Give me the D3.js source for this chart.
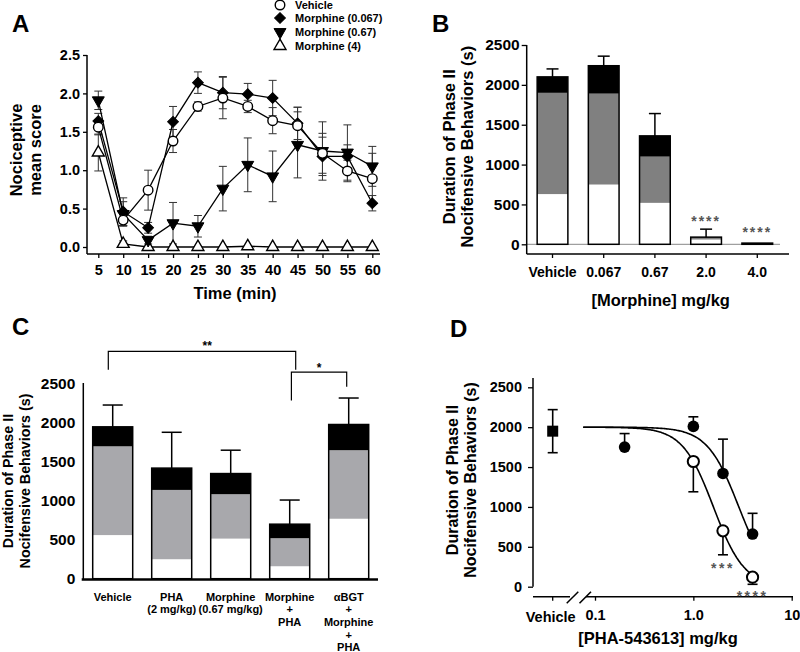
<!DOCTYPE html>
<html><head><meta charset="utf-8">
<script src="https://cdn.jsdelivr.net/npm/d3@7"></script>
<style>
body{margin:0;background:#fff}
svg{display:block}
text{font-family:"Liberation Sans",Arial,sans-serif;font-weight:bold;fill:#000}
</style>
</head><body>
<svg id="c" width="800" height="652"></svg>
<script>
// ---------- Panel A data ----------
const timesA = [5,10,15,20,25,30,35,40,45,50,55,60];
const vehicleA = [1.56,0.35,0.74,1.38,1.83,1.94,1.83,1.645,1.58,1.22,0.99,0.89];
const vehicleErrA = [0.1,0.07,0.26,0.15,0.06,0.27,0.08,0.17,0.24,0.26,0.14,0.33];
const morph067A = [1.64,0.46,0.25,1.63,2.14,2.01,1.99,1.94,1.61,1.18,1.18,0.57];
const morph067ErrA = [0.1,0.18,0.07,0.2,0.14,0.21,0.14,0.23,0.21,0.25,0.15,0.1];
const morph067_A = [1.91,0.43,0.09,0.31,0.27,0.76,1.07,0.92,1.33,1.25,1.23,1.05];
const morph067_ErrA = [0.12,0.16,0.05,0.27,0.14,0.29,0.35,0.33,0.43,0.38,0.36,0.26];
const morph4A = [1.23,0.04,0,0,0,0,0.01,0,0,0,0,0];
const morph4ErrA = [0.24,0.04,0,0,0,0,0,0,0,0,0,0];
const ticksA = [0,0.5,1.0,1.5,2.0,2.5];
const legendA = ["Vehicle","Morphine (0.067)","Morphine (0.67)","Morphine (4)"];

// ---------- Panel B data ----------
const catsB = ["Vehicle","0.067","0.67","2.0","4.0"];
const whiteB = [630,750,520,60,0];
const grayB = [1270,1140,580,25,0];
const blackB = [200,350,260,5,15];
const errB = [100,120,280,100,0];
const starsB = ["","","","****","****"];
const ticksB = [0,500,1000,1500,2000,2500];

// ---------- Panel C data ----------
const catsC = ["Vehicle","PHA","Morphine","Morphine+PHA","aBGT+Morphine+PHA"];
const labelsC = [["Vehicle"],["PHA","(2 mg/kg)"],["Morphine","(0.67 mg/kg)"],["Morphine","+","PHA"],["\u03B1BGT","+","Morphine","+","PHA"]];
const whiteC = [560,250,515,160,770];
const grayC = [1140,890,570,360,880];
const blackC = [250,280,265,180,330];
const errC = [280,460,300,310,340];
const ticksC = [0,500,1000,1500,2000,2500];

// ---------- Panel D data ----------
const vehicleD = 1950, vehicleErrD = 270;
const dosesFilledD = [0.2,1.0,2.0,4.0];
const filledD = [1750,2010,1420,660];
const filledErrD = [170,120,430,260];
const dosesOpenD = [1.0,2.0,4.0];
const openD = [1570,700,120];
const openErrD = [380,300,90];
const fitFilledD = {top:2000, ec50:2.9, hill:2.7};
const fitOpenD = {top:2000, ec50:1.6, hill:2.76};
const ticksD = [0,500,1000,1500,2000,2500];
const xTicksD = [0.1,1,10];
const xTickLabelsD = ["0.1","1.0","10"];

const svg = d3.select("#c");
const fmtInt = d3.format("d");

function rotTitle(g, lines, cx, cy, size){
  lines.forEach((t,i)=>{
    g.append("text").attr("transform",`translate(${cx[i]},${cy}) rotate(-90)`)
      .attr("text-anchor","middle").attr("dy","0.35em").attr("font-size",size).text(t);
  });
}
function letter(x,y,t){ svg.append("text").attr("x",x).attr("y",y).attr("font-size",24).text(t); }

// =================== PANEL A ===================
{
  const g = svg.append("g");
  const x = d3.scaleLinear().domain([5,60]).range([98.3,372.3]);
  const y = d3.scaleLinear().domain([0,2.5]).range([247,55]);
  g.append("line").attr("x1",87).attr("x2",87).attr("y1",55).attr("y2",254).attr("stroke","#000").attr("stroke-width",1.5);
  g.append("line").attr("x1",87).attr("x2",380).attr("y1",254).attr("y2",254).attr("stroke","#000").attr("stroke-width",1.5);
  const ya = g.append("g").attr("transform","translate(87,0)")
    .call(d3.axisLeft(y).tickValues(ticksA).tickFormat(d3.format(".1f")).tickSize(4).tickSizeOuter(0));
  ya.select(".domain").remove();
  ya.selectAll("text").attr("font-size",14.5).attr("font-family",null).attr("x",-7);
  ya.selectAll("line").attr("stroke-width",1.3);
  const xa = g.append("g").attr("transform","translate(0,254)")
    .call(d3.axisBottom(x).tickValues(timesA).tickSize(4).tickSizeOuter(0));
  xa.select(".domain").remove();
  xa.selectAll("text").attr("font-size",14.5).attr("font-family",null).attr("y",11);
  xa.selectAll("line").attr("stroke-width",1.3);
  g.append("text").attr("x",235).attr("y",293).attr("dy","0.35em").attr("text-anchor","middle").attr("font-size",16.5).text("Time (min)");
  rotTitle(g,["Nociceptive","mean score"],[16,35],150,16.5);

  const series = [
    {v:vehicleA,e:vehicleErrA,sym:"circle",fill:"#fff"},
    {v:morph067A,e:morph067ErrA,sym:"diamond",fill:"#000"},
    {v:morph067_A,e:morph067_ErrA,sym:"down",fill:"#000"},
    {v:morph4A,e:morph4ErrA,sym:"up",fill:"#fff"}
  ];
  function marker(sel, sym, fill){
    let p;
    if(sym==="circle") p = d3.symbol(d3.symbolCircle, 72)();
    else if(sym==="diamond") p = d3.symbol(d3.symbolSquare, 58)();
    else p = d3.symbol(d3.symbolTriangle, 62)();
    sel.append("path").attr("d",p)
      .attr("transform", sym==="diamond" ? "rotate(45)" : sym==="down" ? "rotate(180)" : null)
      .attr("fill",fill).attr("stroke","#000").attr("stroke-width",sym==="circle"||sym==="up"?1.4:1);
  }
  series.forEach(s=>{
    const eg = g.append("g").attr("stroke","#333").attr("stroke-width",1);
    timesA.forEach((t,i)=>{
      if(s.e[i]<=0) return;
      const cx = x(t), y1 = y(s.v[i]+s.e[i]), y0 = y(Math.max(0,s.v[i]-s.e[i]));
      eg.append("line").attr("x1",cx).attr("x2",cx).attr("y1",y1).attr("y2",y0);
      eg.append("line").attr("x1",cx-4).attr("x2",cx+4).attr("y1",y1).attr("y2",y1);
      eg.append("line").attr("x1",cx-4).attr("x2",cx+4).attr("y1",y0).attr("y2",y0);
    });
  });
  const line = d3.line().x((d,i)=>x(timesA[i])).y(d=>y(d));
  series.forEach(s=>{
    g.append("path").attr("d",line(s.v)).attr("fill","none").attr("stroke","#000").attr("stroke-width",1.3);
  });
  series.slice().reverse().forEach(s=>{
    timesA.forEach((t,i)=>{
      const m = g.append("g").attr("transform",`translate(${x(t)},${y(s.v[i])})`);
      marker(m,s.sym,s.fill);
    });
  });
  const ly = [5,18,32,46];
  series.forEach((s,i)=>{
    const m = g.append("g").attr("transform",`translate(280,${ly[i]})`);
    marker(m,s.sym,s.fill);
    g.append("text").attr("x",295).attr("y",ly[i]).attr("dy","0.36em").attr("font-size",11).text(legendA[i]);
  });
  letter(12,32,"A");
}

// =================== PANEL B ===================
{
  const g = svg.append("g");
  const x = d3.scaleBand().domain(catsB).range([521.8,788]).paddingInner(0.4).paddingOuter(0.3);
  const y = d3.scaleLinear().domain([0,2500]).range([244.3,45]);
  g.append("line").attr("x1",527).attr("x2",780).attr("y1",y(0)).attr("y2",y(0)).attr("stroke","#888").attr("stroke-width",1);
  const data = catsB.map((c,i)=>({c, white:whiteB[i], gray:grayB[i], black:blackB[i]}));
  const stack = d3.stack().keys(["white","gray","black"])(data);
  const colors = {white:"#fff",gray:"#808080",black:"#000"};
  stack.forEach(layer=>{
    g.append("g").selectAll("rect").data(layer).join("rect")
      .attr("x",d=>x(d.data.c)).attr("width",x.bandwidth())
      .attr("y",d=>y(d[1])).attr("height",d=>Math.max(0,y(d[0])-y(d[1])))
      .attr("fill",colors[layer.key]);
  });
  data.forEach((d,i)=>{
    const tot = d.white+d.gray+d.black;
    g.append("rect").attr("x",x(d.c)).attr("width",x.bandwidth()).attr("y",y(tot)).attr("height",y(0)-y(tot))
      .attr("fill","none").attr("stroke","#000").attr("stroke-width",1.5);
    if(errB[i]>0){
      const cx = x(d.c)+x.bandwidth()/2;
      g.append("line").attr("x1",cx).attr("x2",cx).attr("y1",y(tot)).attr("y2",y(tot+errB[i])).attr("stroke","#000").attr("stroke-width",1.5);
      g.append("line").attr("x1",cx-6).attr("x2",cx+6).attr("y1",y(tot+errB[i])).attr("y2",y(tot+errB[i])).attr("stroke","#000").attr("stroke-width",1.5);
    }
    if(starsB[i]){
      g.append("text").attr("x",x(d.c)+x.bandwidth()/2).attr("y",i===3?226:237).attr("text-anchor","middle")
        .attr("font-size",14).attr("font-weight","normal").attr("letter-spacing",2).style("fill","#555").text(starsB[i]);
    }
  });
  g.append("line").attr("x1",526.7).attr("x2",526.7).attr("y1",45).attr("y2",254).attr("stroke","#000").attr("stroke-width",1.5);
  g.append("line").attr("x1",526.7).attr("x2",789).attr("y1",254).attr("y2",254).attr("stroke","#000").attr("stroke-width",1.5);
  const ya = g.append("g").attr("transform","translate(526.7,0)")
    .call(d3.axisLeft(y).tickValues(ticksB).tickFormat(fmtInt).tickSize(5).tickSizeOuter(0));
  ya.select(".domain").remove();
  ya.selectAll("text").attr("font-size",15.5).attr("font-family",null).attr("x",-7);
  ya.selectAll("line").attr("stroke-width",1.3);
  const xa = g.append("g").attr("transform","translate(0,254)")
    .call(d3.axisBottom(x).tickSize(4).tickSizeOuter(0));
  xa.select(".domain").remove();
  xa.selectAll("text").attr("font-size",14).attr("font-family",null).attr("y",13);
  xa.selectAll("line").attr("stroke-width",1.3);
  g.append("text").attr("x",660.7).attr("y",300).attr("dy","0.35em").attr("text-anchor","middle").attr("font-size",16.5).text("[Morphine] mg/kg");
  rotTitle(g,["Duration of Phase II","Nocifensive Behaviors (s)"],[449,467],146.7,16.5);
  letter(432,32,"B");
}

// =================== PANEL C ===================
{
  const g = svg.append("g");
  const x = d3.scaleBand().domain(catsC).range([75,386.4]).paddingInner(0.322).paddingOuter(0.3);
  const y = d3.scaleLinear().domain([0,2500]).range([578.7,384]);
  const data = catsC.map((c,i)=>({c, white:whiteC[i], gray:grayC[i], black:blackC[i]}));
  const stack = d3.stack().keys(["white","gray","black"])(data);
  const colors = {white:"#fff",gray:"#a8a8ac",black:"#000"};
  stack.forEach(layer=>{
    g.append("g").selectAll("rect").data(layer).join("rect")
      .attr("x",d=>x(d.data.c)).attr("width",x.bandwidth())
      .attr("y",d=>y(d[1])).attr("height",d=>Math.max(0,y(d[0])-y(d[1])))
      .attr("fill",colors[layer.key]);
  });
  data.forEach((d,i)=>{
    const tot = d.white+d.gray+d.black;
    g.append("rect").attr("x",x(d.c)).attr("width",x.bandwidth()).attr("y",y(tot)).attr("height",y(0)-y(tot))
      .attr("fill","none").attr("stroke","#000").attr("stroke-width",1.5);
    const cx = x(d.c)+x.bandwidth()/2;
    g.append("line").attr("x1",cx).attr("x2",cx).attr("y1",y(tot)).attr("y2",y(tot+errC[i])).attr("stroke","#000").attr("stroke-width",1.5);
    g.append("line").attr("x1",cx-10).attr("x2",cx+10).attr("y1",y(tot+errC[i])).attr("y2",y(tot+errC[i])).attr("stroke","#000").attr("stroke-width",1.5);
    labelsC[i].forEach((t,j)=>{
      g.append("text").attr("x",cx).attr("y",600.7+j*12.6).attr("text-anchor","middle").attr("font-size",11).text(t);
    });
  });
  g.append("line").attr("x1",83.3).attr("x2",83.3).attr("y1",383).attr("y2",579).attr("stroke","#000").attr("stroke-width",1.5);
  g.append("line").attr("x1",81.7).attr("x2",378).attr("y1",579.5).attr("y2",579.5).attr("stroke","#000").attr("stroke-width",2.6);
  const ya = g.append("g").attr("transform","translate(83.3,0)")
    .call(d3.axisLeft(y).tickValues(ticksC).tickFormat(fmtInt).tickSize(0).tickSizeOuter(0));
  ya.select(".domain").remove();
  ya.selectAll("text").attr("font-size",15.5).attr("font-family",null).attr("x",-8);
  rotTitle(g,["Duration of Phase II","Nocifensive Behaviors (s)"],[8,25],481,14.3);
  const c0 = x(catsC[0])+x.bandwidth()/2, c3 = x(catsC[3])+x.bandwidth()/2, c4 = x(catsC[4])+x.bandwidth()/2;
  g.append("path").attr("d",`M${c0-4.4},${y(2683)}V${y(2918)}H${c3+6}V${y(2683)}`).attr("fill","none").attr("stroke","#000").attr("stroke-width",1.2);
  g.append("path").attr("d",`M${c3+1.7},${y(2288)}V${y(2653)}H${c4-2}V${y(2464)}`).attr("fill","none").attr("stroke","#000").attr("stroke-width",1.2);
  g.append("text").attr("x",(c0+c3)/2+6).attr("y",350).attr("text-anchor","middle").attr("font-size",12).attr("font-weight","normal").text("**");
  g.append("text").attr("x",(c3+c4)/2).attr("y",372).attr("text-anchor","middle").attr("font-size",12).attr("font-weight","normal").text("*");
  letter(12,335,"C");
}

// =================== PANEL D ===================
{
  const g = svg.append("g");
  const x = d3.scaleLog().domain([0.1,10]).range([595,791.7]);
  const xVeh = 552.7;
  const y = d3.scaleLinear().domain([0,2500]).range([586.7,387.3]);
  g.append("line").attr("x1",533).attr("x2",533).attr("y1",378).attr("y2",586.7).attr("stroke","#000").attr("stroke-width",1.5);
  const ya = g.append("g").attr("transform","translate(533,0)")
    .call(d3.axisLeft(y).tickValues(ticksD).tickFormat(fmtInt).tickSize(5).tickSizeOuter(0));
  ya.select(".domain").remove();
  ya.selectAll("text").attr("font-size",14.5).attr("font-family",null).attr("x",-11);
  ya.selectAll("line").attr("stroke-width",1.3);
  const ax = 596.7;
  g.append("line").attr("x1",533).attr("x2",570).attr("y1",ax).attr("y2",ax).attr("stroke","#000").attr("stroke-width",1.5);
  g.append("line").attr("x1",586).attr("x2",793).attr("y1",ax).attr("y2",ax).attr("stroke","#000").attr("stroke-width",1.5);
  g.append("line").attr("x1",566.7).attr("x2",578.3).attr("y1",603.3).attr("y2",591.7).attr("stroke","#000").attr("stroke-width",1.5);
  g.append("line").attr("x1",579.5).attr("x2",591).attr("y1",603.3).attr("y2",591.7).attr("stroke","#000").attr("stroke-width",1.5);
  const xa = g.append("g").attr("transform",`translate(0,${ax})`)
    .call(d3.axisBottom(x).tickValues(xTicksD).tickFormat((d,i)=>xTickLabelsD[i]).tickSize(4).tickSizeOuter(0));
  xa.select(".domain").remove();
  xa.selectAll("text").attr("font-size",14.5).attr("font-family",null).attr("y",13);
  xa.selectAll("line").attr("stroke-width",1.3);
  g.append("line").attr("x1",xVeh).attr("x2",xVeh).attr("y1",ax).attr("y2",ax+4).attr("stroke","#000").attr("stroke-width",1.3);
  g.append("text").attr("x",xVeh-2).attr("y",ax+25).attr("text-anchor","middle").attr("font-size",14.5).text("Vehicle");
  g.append("text").attr("x",658).attr("y",638).attr("dy","0.35em").attr("text-anchor","middle").attr("font-size",16.5).text("[PHA-543613] mg/kg");
  rotTitle(g,["Duration of Phase II","Nocifensive Behaviors (s)"],[452,470],480,16);

  const hill = (p,d)=>p.top/(1+Math.pow(d/p.ec50,p.hill));
  const xs = d3.range(-1.12,0.605,0.01).map(l=>Math.pow(10,l));
  const ln = d3.line().x(d=>x(d[0])).y(d=>y(d[1])).curve(d3.curveMonotoneX);
  g.append("path").attr("d",ln(xs.map(d=>[d,hill(fitFilledD,d)]))).attr("fill","none").attr("stroke","#000").attr("stroke-width",1.6);
  g.append("path").attr("d",ln(xs.map(d=>[d,hill(fitOpenD,d)]))).attr("fill","none").attr("stroke","#000").attr("stroke-width",1.6);

  function ebar(cx,v0,v1){
    g.append("line").attr("x1",cx).attr("x2",cx).attr("y1",y(v0)).attr("y2",y(v1)).attr("stroke","#000").attr("stroke-width",1.6);
    g.append("line").attr("x1",cx-5).attr("x2",cx+5).attr("y1",y(v1)).attr("y2",y(v1)).attr("stroke","#000").attr("stroke-width",1.6);
  }
  ebar(xVeh,vehicleD,vehicleD+vehicleErrD);
  ebar(xVeh,vehicleD,vehicleD-vehicleErrD);
  g.append("rect").attr("x",xVeh-5.5).attr("y",y(vehicleD)-5.5).attr("width",11).attr("height",11).attr("fill","#000");
  dosesFilledD.forEach((d,i)=>ebar(x(d),filledD[i],filledD[i]+filledErrD[i]));
  dosesOpenD.forEach((d,i)=>ebar(x(d),openD[i],openD[i]-openErrD[i]));
  g.append("g").selectAll("circle").data(dosesFilledD).join("circle")
    .attr("cx",d=>x(d)).attr("cy",(d,i)=>y(filledD[i])).attr("r",5.8).attr("fill","#000");
  g.append("g").selectAll("circle").data(dosesOpenD).join("circle")
    .attr("cx",d=>x(d)).attr("cy",(d,i)=>y(openD[i])).attr("r",5.6).attr("fill","#fff").attr("stroke","#000").attr("stroke-width",2);
  g.append("text").attr("x",x(2.0)).attr("y",573).attr("text-anchor","middle").attr("font-size",14).attr("font-weight","normal").attr("letter-spacing",2.5).style("fill","#555").text("***");
  g.append("text").attr("x",x(4.0)).attr("y",601).attr("text-anchor","middle").attr("font-size",14).attr("font-weight","normal").attr("letter-spacing",2.5).style("fill","#555").text("****");
  letter(450,337,"D");
}
</script>
</body></html>
